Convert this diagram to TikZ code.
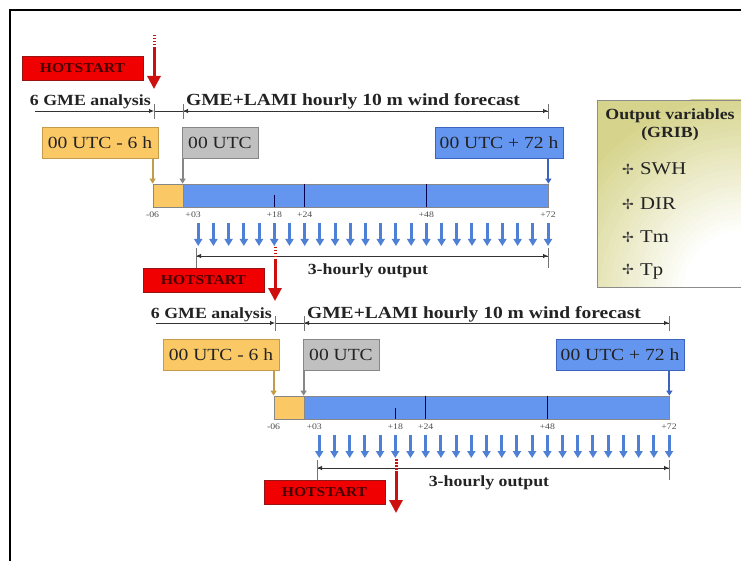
\documentclass[tikz,border=0pt]{standalone}
\usepackage{fontspec}
\setmainfont{Liberation Serif}[FakeStretch=1.15]
\newfontfamily\dingfont{DejaVu Sans}
\usetikzlibrary{arrows.meta,calc}

\definecolor{hsred}{RGB}{240,0,0}
\definecolor{hsline}{RGB}{150,20,20}
\definecolor{hstext}{RGB}{70,0,0}
\definecolor{arred}{RGB}{205,15,15}
\definecolor{orngfill}{RGB}{250,200,100}
\definecolor{orngline}{RGB}{195,155,75}
\definecolor{grayfill}{RGB}{192,192,192}
\definecolor{grayline}{RGB}{135,135,135}
\definecolor{bluefill}{RGB}{100,150,240}
\definecolor{blueline}{RGB}{60,100,190}
\definecolor{outblue}{RGB}{78,128,214}
\definecolor{olivefill}{RGB}{214,212,140}
\definecolor{inktext}{RGB}{35,35,35}

\tikzset{
  hsbox/.style={rectangle, draw=hsline, fill=hsred, minimum width=121pt, minimum height=24pt,
    inner sep=0pt, text=hstext, font=\fontsize{13.6}{15}\selectfont\bfseries},
  hsarr/.style={draw=arred, line width=3pt, -{Triangle[length=13pt,width=13pt]}},
  hsdash/.style={draw=arred, line width=3pt, dash pattern=on 1.5pt off 1.5pt},
  lbl/.style={inner sep=0pt, text=inktext, font=\fontsize{15.5}{17}\selectfont\bfseries},
  utcbox/.style={rectangle, minimum height=31pt, inner sep=0pt, line width=0.8pt,
    text=inktext, font=\fontsize{17}{19}\selectfont},
  orngbox/.style={utcbox, draw=orngline, fill=orngfill, minimum width=116pt},
  graybox/.style={utcbox, draw=grayline, fill=grayfill, minimum width=76pt},
  bluebox/.style={utcbox, draw=blueline, fill=bluefill, minimum width=128pt},
  barpart/.style={rectangle, draw=grayline, line width=0.8pt, minimum height=23pt, inner sep=0pt},
  dim/.style={draw=black!80, line width=0.8pt},
  dimtip/.style={-{Latex[length=5pt,width=4.5pt]}},
  tick/.style={draw=black!55, line width=0.8pt},
  drop/.style={line width=2pt, -{Triangle[length=5pt,width=6pt]}},
  divider/.style={draw=black!70!blue, line width=1pt},
  ticklbl/.style={inner sep=0pt, text=black!70, font=\fontsize{8.5}{9}\selectfont},
  outarr/.style={draw=outblue, line width=3pt, -{Triangle[length=7pt,width=8pt]}},
  vtitle/.style={inner sep=0pt, text=inktext, font=\fontsize{15.5}{17}\selectfont\bfseries},
  vitem/.style={inner sep=0pt, text=inktext, font=\fontsize{18}{20}\selectfont},
  vstar/.style={inner sep=0pt, text=black!75, font=\dingfont\fontsize{14}{15}\selectfont}
}

\begin{document}
\begin{tikzpicture}[x=1pt,y=-1pt]
\useasboundingbox (0,0) rectangle (741,561);

% frame
\draw[line width=2.2pt] (10,561) -- (10,10) -- (741,10);

% output variables panel
\begin{scope}
  \clip (597,100) rectangle (745,287);
  \fill[olivefill] (597,100) rectangle (745,287);
  \foreach \k [evaluate=\k as \p using {int(100-4*\k)},
               evaluate=\k as \r using {200-5.5*\k}] in {0,...,25}
    \fill[olivefill!\p!white] (745,292) circle (\r);
\end{scope}
\draw[draw=black!45, line width=0.8pt] (597,100) rectangle (745,287);
\node[vtitle, anchor=base] (vt1) at (670,120) {Output variables};
\node[vtitle, anchor=base] (vt2) at (670,138) {(GRIB)};
\foreach \v/\y [count=\k] in {SWH/175, DIR/210, Tm/243, Tp/275} {
  \node[vstar] (vs\k) at (628,{\y-5.5}) {✢};
  \node[vitem, anchor=base west] (vi\k) at (640,\y) {\v};
}

% the two forecast runs
\foreach \i/\dx/\dy in {0/0/0, 1/121/212} {
\begin{scope}[shift={(\dx,\dy)}]
  \node[lbl, anchor=base east] (anl\i) at (151,106) {6 GME analysis};
  \node[lbl, anchor=base, font=\fontsize{17}{18}\selectfont\bfseries] (fct\i) at (353,106) {GME+LAMI hourly 10 m wind forecast};
  \coordinate (da\i) at (35,111);
  \coordinate (db\i) at (154,111);
  \coordinate (dc\i) at (183,111);
  \coordinate (dd\i) at (548,111);
  \draw[dim, dimtip] (da\i) -- (db\i);
  \draw[dim] (db\i) -- (dc\i);
  \draw[dim, dimtip] (dc\i) -- (dd\i);
  \draw[dim, dimtip] (dd\i) -- (dc\i);
  \foreach \c in {db,dc,dd}
    \draw[tick] ($(\c\i)+(0,-7)$) -- ($(\c\i)+(0,8)$);

  \node[orngbox] (orng\i) at (100,142.5) {00 UTC - 6 h};
  \node[graybox] (gray\i) at (220,142.5) {00 UTC};
  \node[bluebox] (blue\i) at (499,142.5) {00 UTC + 72 h};

  \node[barpart, fill=orngfill, minimum width=30pt] (anal\i) at (168,195.5) {};
  \node[barpart, fill=bluefill, minimum width=365pt] (fcst\i) at (365.5,195.5) {};
  \draw[drop, draw=orngline] (orng\i.south -| anal\i.west) -- (anal\i.north west);
  \draw[drop, draw=grayline] (gray\i.south -| fcst\i.west) -- (fcst\i.north west);
  \draw[drop, draw=blueline] (blue\i.south -| fcst\i.east) -- (fcst\i.north east);
  \foreach \h in {24,48}
    \draw[divider] ($(fcst\i.north west)!\h/72!(fcst\i.north east)$) -- ($(fcst\i.south west)!\h/72!(fcst\i.south east)$);
  \draw[divider] ($(fcst\i.west)!18/72!(fcst\i.east)$) -- ($(fcst\i.south west)!18/72!(fcst\i.south east)$);

  \foreach \h/\t [count=\k] in {-6/-06, 2/+03, 18/+18, 24/+24, 48/+48, 72/+72}
    \node[ticklbl] (tl\i\k) at ({183+5.07*\h},215) {\t};

  \foreach \h in {3,6,...,72}
    \draw[outarr] ({183+5.07*\h},223) -- ({183+5.07*\h},246);

  \coordinate (oa\i) at (196,256);
  \coordinate (ob\i) at (548,256);
  \draw[dim, dimtip] (oa\i) -- (ob\i);
  \draw[dim, dimtip] (ob\i) -- (oa\i);
  \foreach \c in {oa,ob}
    \draw[tick] ($(\c\i)+(0,-8)$) -- ($(\c\i)+(0,12)$);
  \node[lbl, anchor=base] (out\i) at (368,274) {3-hourly output};
\end{scope}
}

% hotstarts
\foreach \i in {0,1,2} {
\begin{scope}[shift={(121*\i,212*\i)}]
  \node[hsbox] (hs\i) at (82.5,68) {HOTSTART};
  \coordinate (ht\i) at (154,35);
  \coordinate (hm\i) at (154,47);
  \coordinate (hb\i) at (154,89);
  \draw[hsdash] (ht\i) -- (hm\i);
  \draw[hsarr] (hm\i) -- (hb\i);
\end{scope}
}
\end{tikzpicture}
\end{document}
